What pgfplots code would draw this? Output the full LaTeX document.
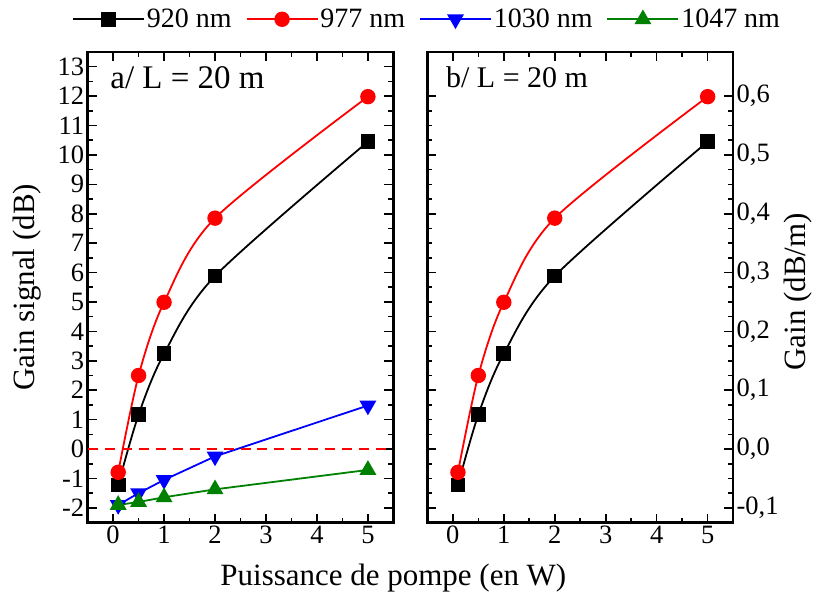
\documentclass[border=0pt]{standalone}
\usepackage{fontspec}
\setmainfont{Liberation Serif}
\usepackage{pgfplots}
\pgfplotsset{compat=1.18}
\definecolor{cgreen}{RGB}{0,128,0}
\begin{document}
\begin{tikzpicture}
\pgfplotsset{
  every axis/.append style={
    scale only axis, width=306pt, height=471pt,
    xmin=-0.5, xmax=5.5,
    xtick={0,1,2,3,4,5}, minor x tick num=1,
    tick align=inside,
    major tick length=9pt, minor tick length=5pt,
    axis line style={line width=2.4pt},
    tick style={line width=1.6pt, black},
    /pgf/number format/assume math mode=true,
    every tick label/.append style={font=\fontsize{26.5}{30}\selectfont},
    every axis label/.append style={font=\fontsize{31}{36}\selectfont},
  },
  s920/.style={black, line width=1.8pt, mark=square*, mark size=6.5pt, mark options={solid}},
  s977/.style={red, line width=1.8pt, mark=*, mark size=6.8pt, mark options={solid}},
  s1030/.style={blue, line width=1.8pt, mark=triangle*, mark size=8pt, mark options={solid, rotate=180}},
  s1047/.style={cgreen, line width=1.8pt, mark=triangle*, mark size=8pt, mark options={solid}},
}
\begin{axis}[
  name=a,
  ymin=-2.5, ymax=13.5,
  ytick={-2,-1,0,1,2,3,4,5,6,7,8,9,10,11,12,13}, minor y tick num=1,
  ylabel={Gain signal (dB)},
  ylabel style={at={(rel axis cs:-0.198,0.5)}, anchor=center},
  xlabel={Puissance de pompe (en W)},
  xlabel style={at={(rel axis cs:1.0,-0.117)}, anchor=center},
  legend columns=4,
  legend style={draw=none, fill=none, inner sep=0pt, at={(rel axis cs:-0.051,1.0694)}, anchor=west,
    font=\fontsize{28}{32}\selectfont,
    nodes={font=\fontsize{28}{32}\selectfont},
    /tikz/every even column/.append style={column sep=12pt}},
  legend image code/.code={\draw[mark repeat=2, mark phase=2] plot coordinates {(0pt,0pt) (35.5pt,0pt) (71pt,0pt)};},
]
\addplot[s920, smooth, tension=0.5] coordinates {(0.1,-1.22) (0.5,1.17) (1,3.24) (2,5.88) (5,10.45)};
\addlegendentry{920 nm}
\addplot[s977, smooth, tension=0.5] coordinates {(0.1,-0.79) (0.5,2.5) (1,4.99) (2,7.85) (5,11.98)};
\addlegendentry{977 nm}
\addplot[s1030] coordinates {(0.1,-1.9) (0.5,-1.5) (1,-1.05) (2,-0.25) (5,1.48)};
\addlegendentry{1030 nm}
\addplot[s1047] coordinates {(0.1,-1.9) (0.5,-1.8) (1,-1.64) (2,-1.37) (5,-0.71)};
\addlegendentry{1047 nm}
\addplot[red, line width=1.8pt, dash pattern=on 10pt off 7pt, forget plot] coordinates {(-0.5,0) (5.5,0)};
\node[anchor=west, font=\fontsize{33}{38}\selectfont] at (rel axis cs:0.063,0.946) {a/ L = 20 m};
\end{axis}
\begin{axis}[
  at={(340pt,0pt)},
  ymin=-0.125, ymax=0.675,
  ytick={-0.1,0,0.1,0.2,0.3,0.4,0.5,0.6}, minor y tick num=3,
  yticklabel pos=right,
  yticklabel style={/pgf/number format/.cd, fixed, fixed zerofill, precision=1, use comma},
  ylabel={Gain (dB/m)},
  ylabel style={at={(rel axis cs:1.211,0.49)}, anchor=center, rotate=0},
]
\addplot[s920, smooth, tension=0.5] coordinates {(0.1,-0.061) (0.5,0.0585) (1,0.162) (2,0.294) (5,0.5225)};
\addplot[s977, smooth, tension=0.5] coordinates {(0.1,-0.0395) (0.5,0.125) (1,0.2495) (2,0.3925) (5,0.599)};
\node[anchor=west, font=\fontsize{30}{34}\selectfont] at (rel axis cs:0.05,0.946) {b/ L = 20 m};
\end{axis}
\path[use as bounding box] (a.south west) ++(-87.7pt,-73pt) rectangle ++(815pt,596pt);
\end{tikzpicture}
\end{document}
